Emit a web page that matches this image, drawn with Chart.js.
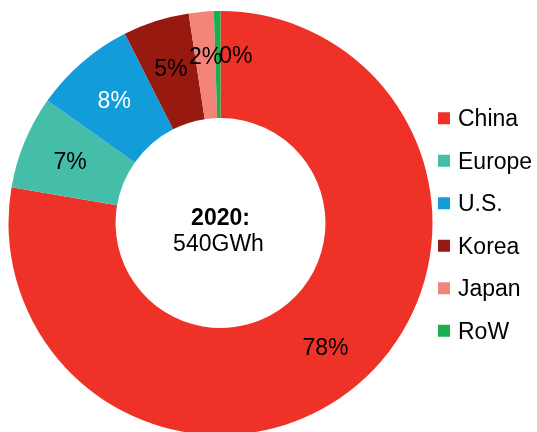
<!DOCTYPE html>
<html>
<head>
<meta charset="utf-8">
<script src="https://cdn.jsdelivr.net/npm/chart.js@4.4.1/dist/chart.umd.min.js"></script>
<style>
	html, body { margin: 0; padding: 0; background: #fff; overflow: hidden; }
	#wrap { width: 537px; height: 432px; overflow: hidden; }
</style>
</head>
<body>
<div id="wrap"><canvas id="chart" width="537" height="446"></canvas></div>
<script>
// 2020 share by region, % of 540GWh
var regions = ['China', 'Europe', 'U.S.', 'Korea', 'Japan', 'RoW'];
var shares = [77.7, 7.1, 7.75, 5.05, 1.9, 0.5];
var shareLabels = ['78%', '7%', '8%', '5%', '2%', '0%'];
var centerTitle = '2020:';
var centerValue = '540GWh';

var colors = ['#EF3228', '#45BEA9', '#129CDA', '#98190F', '#F4837A', '#19AF4D'];
var labelColors = ['#000', '#000', '#fff', '#000', '#000', '#000'];
var labelNudge = [[0, 0], [0, 0], [0, 0], [0, 0], [0, -5], [18, -5]];
var FONT = '"Liberation Sans", Arial, sans-serif';

var sliceLabels = {
	id: 'sliceLabels',
	afterDatasetsDraw: function(chart){
		var ctx = chart.ctx;
		var arcs = chart.getDatasetMeta(0).data;
		ctx.save();
		ctx.font = '23px ' + FONT;
		ctx.textAlign = 'center';
		ctx.textBaseline = 'alphabetic';
		for(var i=0;i<arcs.length;i++){
			var a = arcs[i];
			var mid = (a.startAngle + a.endAngle) / 2;
			var r = a.innerRadius + 0.54 * (a.outerRadius - a.innerRadius);
			var x = a.x + Math.cos(mid) * r + labelNudge[i][0];
			var y = a.y + Math.sin(mid) * r + labelNudge[i][1];
			ctx.fillStyle = labelColors[i];
			ctx.fillText(shareLabels[i], x, y + 8);
		}
		// centre text
		var c = arcs[0];
		ctx.fillStyle = '#000';
		ctx.font = 'bold 23px ' + FONT;
		ctx.fillText(centerTitle, c.x, c.y + 2);
		ctx.font = '23px ' + FONT;
		ctx.fillText(centerValue, c.x - 2, c.y + 28);
		ctx.restore();
	}
};

var sideLegend = {
	id: 'sideLegend',
	afterDraw: function(chart){
		var ctx = chart.ctx;
		var c = chart.getDatasetMeta(0).data[0];
		var step = 42.5;
		var top = c.y + 1.5 - step * (regions.length - 1) / 2;
		ctx.save();
		ctx.font = '23px ' + FONT;
		ctx.textAlign = 'left';
		ctx.textBaseline = 'alphabetic';
		for(var i=0;i<regions.length;i++){
			var y = top + i * step;
			ctx.fillStyle = colors[i];
			ctx.fillRect(438, y - 6, 12, 12);
			ctx.fillStyle = '#000';
			ctx.fillText(regions[i], 458, y + 8);
		}
		ctx.restore();
	}
};

new Chart(document.getElementById('chart'), {
	type: 'doughnut',
	data: {
		labels: regions,
		datasets: [{
			data: shares,
			backgroundColor: colors,
			borderWidth: 0
		}]
	},
	options: {
		responsive: false,
		animation: false,
		devicePixelRatio: 1,
		cutout: '49.5%',
		layout: { padding: { left: 8.5, right: 104.5, top: 11, bottom: 11 } },
		plugins: {
			legend: { display: false },
			tooltip: { enabled: false }
		}
	},
	plugins: [sliceLabels, sideLegend]
});
</script>
</body>
</html>
